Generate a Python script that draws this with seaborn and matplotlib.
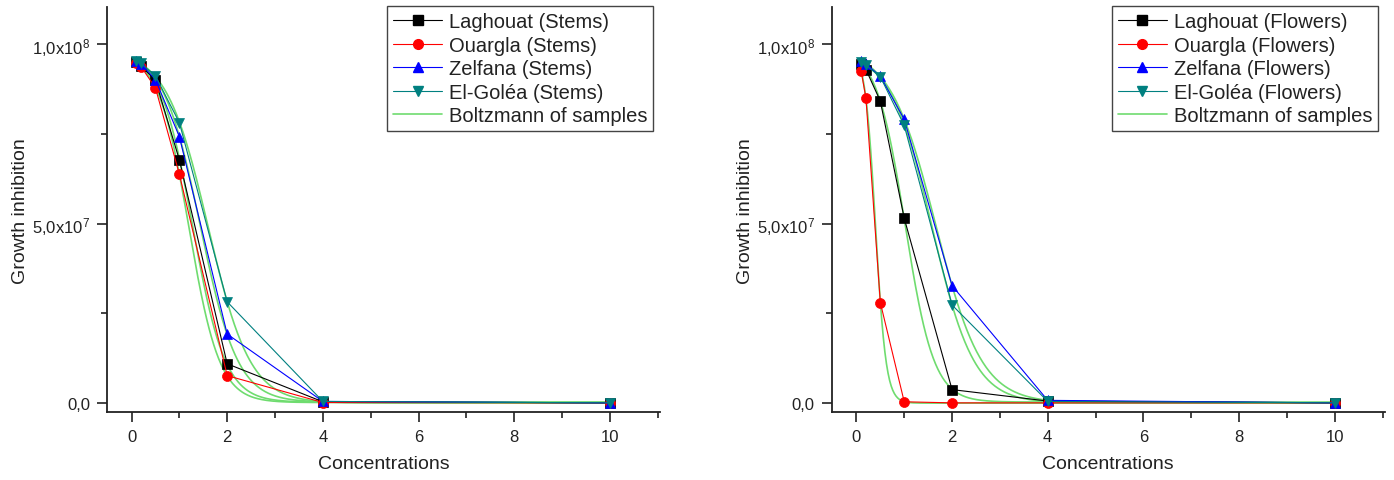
import numpy as np
import pandas as pd
import matplotlib
matplotlib.use("Agg")
import matplotlib.pyplot as plt
import seaborn as sns
from matplotlib.ticker import MultipleLocator, FixedLocator, FixedFormatter

# ---------------- data ----------------
concentrations = [0.1, 0.2, 0.5, 1, 2, 4, 10]

sites = ["Laghouat", "Ouargla", "Zelfana", "El-Goléa"]

stems_laghouat = [0.950e8, 0.940e8, 0.900e8, 0.678e8, 0.109e8, 0.003e8, 0.0]
stems_ouargla = [0.948e8, 0.938e8, 0.879e8, 0.638e8, 0.076e8, 0.001e8, 0.0]
stems_zelfana = [0.955e8, 0.945e8, 0.902e8, 0.743e8, 0.192e8, 0.004e8, 0.0]
stems_elgolea = [0.953e8, 0.947e8, 0.912e8, 0.782e8, 0.282e8, 0.004e8, 0.0]

flowers_laghouat = [0.945e8, 0.930e8, 0.842e8, 0.515e8, 0.037e8, 0.005e8, 0.0]
flowers_ouargla = [0.925e8, 0.850e8, 0.280e8, 0.003e8, 0.000e8, 0.0, 0.0]
flowers_zelfana = [0.955e8, 0.945e8, 0.912e8, 0.791e8, 0.327e8, 0.007e8, 0.0]
flowers_elgolea = [0.950e8, 0.942e8, 0.910e8, 0.774e8, 0.273e8, 0.004e8, 0.0]

y_ticks = [0.0, 5.0e7, 1.0e8]
y_tick_labels = ["0,0", r"5,0x10$^7$", r"1,0x10$^8$"]
x_ticks = [0, 2, 4, 6, 8, 10]

colors = ["#000000", "#ff0000", "#0000ff", "#008080"]
markers = ["s", "o", "^", "v"]
fit_color = "#6fdc6f"


def boltzmann_fit(x, y):
    """Least-squares Boltzmann fit: y = A2 + (A1-A2)/(1+exp((x-x0)/dx))."""
    x = np.asarray(x, float)
    y = np.asarray(y, float)
    best = None
    for x0 in np.linspace(0.0, 3.0, 301):
        for dx in np.linspace(0.02, 1.2, 119):
            s = 1.0 / (1.0 + np.exp((x - x0) / dx))
            M = np.column_stack([s, 1 - s])
            coef, *_ = np.linalg.lstsq(M, y, rcond=None)
            r = np.sum((M @ coef - y) ** 2)
            if best is None or r < best[0]:
                best = (r, coef[0], coef[1], x0, dx)
    _, a1, a2, x0, dx = best
    xs = np.linspace(x.min(), x.max(), 600)
    return xs, a2 + (a1 - a2) / (1 + np.exp((xs - x0) / dx))


sns.set_theme(style="ticks")
plt.rcParams["font.family"] = ["Liberation Sans", "DejaVu Sans"]
plt.rcParams["mathtext.fontset"] = "custom"
plt.rcParams["mathtext.rm"] = "Liberation Sans"
plt.rcParams["mathtext.it"] = "Liberation Sans"

fig = plt.figure(figsize=(13.94, 4.81), dpi=100)
ax1 = fig.add_axes([0.0765, 0.141, 0.397, 0.842])
ax2 = fig.add_axes([0.5965, 0.141, 0.397, 0.842])

panels = [
    (ax1, "Stems", [stems_laghouat, stems_ouargla, stems_zelfana, stems_elgolea]),
    (ax2, "Flowers", [flowers_laghouat, flowers_ouargla, flowers_zelfana, flowers_elgolea]),
]

for ax, part, series in panels:
    # Boltzmann fits
    for vals in series:
        xs, ys = boltzmann_fit(concentrations, vals)
        sns.lineplot(x=xs, y=ys, ax=ax, color=fit_color, lw=1.2, zorder=2)
    handles = []
    for name, vals, c, m in zip(sites, series, colors, markers):
        df = pd.DataFrame({"Concentrations": concentrations, "val": vals})
        sns.lineplot(data=df, x="Concentrations", y="val", ax=ax, color=c,
                     lw=0.8, marker=m, markersize=7.2, markeredgecolor=c,
                     markeredgewidth=0.5, zorder=3)
        handles.append(plt.Line2D([], [], color=c, lw=0.8, marker=m,
                                  markersize=7, markeredgecolor=c,
                                  label=f"{name} ({part})"))
    handles.append(plt.Line2D([], [], color=fit_color, lw=1.2,
                              label="Boltzmann of samples"))

    ax.set_xlim(-0.52, 11.05)
    ax.set_ylim(-2.6e6, 1.104e8)
    ax.xaxis.set_major_locator(FixedLocator(x_ticks))
    ax.xaxis.set_minor_locator(MultipleLocator(1))
    ax.yaxis.set_major_locator(FixedLocator(y_ticks))
    ax.yaxis.set_major_formatter(FixedFormatter(y_tick_labels))
    ax.yaxis.set_minor_locator(FixedLocator([2.5e7, 7.5e7]))
    ax.tick_params(axis="both", which="major", direction="out", length=7,
                   width=1.2, labelsize=12, colors="#222222", pad=5)
    ax.tick_params(axis="both", which="minor", direction="out", length=4.5,
                   width=1.2, colors="#222222")
    for side in ["top", "right"]:
        ax.spines[side].set_visible(False)
    for side in ["left", "bottom"]:
        ax.spines[side].set_linewidth(1.3)
        ax.spines[side].set_color("#222222")
    ax.set_xlabel("Concentrations", fontsize=14, labelpad=8, color="#222222")
    ax.set_ylabel("Growth inhibition", fontsize=14, labelpad=2, color="#222222")
    leg = ax.legend(handles=handles, loc="upper right",
                    bbox_to_anchor=(0.995, 1.012), fontsize=14.5,
                    frameon=True, fancybox=False, framealpha=1,
                    edgecolor="#444444", handlelength=2.4,
                    handletextpad=0.35, labelspacing=0.22, borderpad=0.3,
                    borderaxespad=0.2)
    leg.get_frame().set_linewidth(1.0)
    for t in leg.get_texts():
        t.set_color("#222222")

fig.savefig("out.png", dpi=100)
